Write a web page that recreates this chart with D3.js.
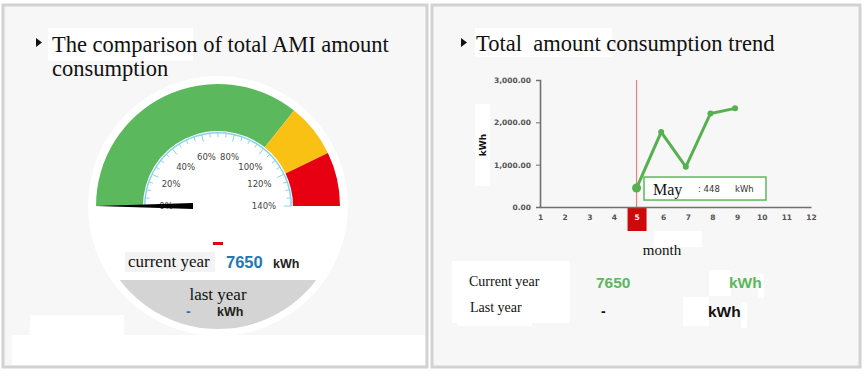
<!DOCTYPE html>
<html>
<head>
<meta charset="utf-8">
<script src="https://cdn.jsdelivr.net/npm/d3@7"></script>
<style>
  html, body { margin: 0; padding: 0; background: #fff; }
  svg { display: block; }
  .serif { font-family: "Liberation Serif", "Times New Roman", serif; }
  .sans { font-family: "DejaVu Sans", Verdana, sans-serif; }
  .arial { font-family: "Liberation Sans", Arial, sans-serif; }
</style>
</head>
<body>
<script>
// dashboard: gauge + monthly trend
const W = 865, H = 376;

// ── Data ──────────────────────────────────────────────
const gaugeStops = [0, 100, 120, 140];          // band edges, %
const gaugeLabels = [0, 20, 40, 60, 80, 100, 120, 140];
const gaugeValue = 0;                            // needle (%)
const currentYear = 7650;
const lastYear = "-";

const months = [1, 2, 3, 4, 5, 6, 7, 8, 9, 10, 11, 12];
const trendMonths = [5, 6, 7, 8, 9];
const trendKwh = [448, 1770, 950, 2210, 2330];
const yTicks = [0, 1000, 2000, 3000];
const selMonth = 5, selMonthName = "May";

// ── Styles ────────────────────────────────────────────
const bandColors = ["#5cb85c", "#f9c113", "#e60012"];
const GREEN = "#55b04f", BLUE = "#1f78b4";

const svg = d3.select("body").append("svg").attr("width", W).attr("height", H);

// panels
svg.append("rect").attr("x", 3).attr("y", 5).attr("width", 424).attr("height", 362)
  .attr("fill", "#f7f7f7").attr("stroke", "#d2d2d2").attr("stroke-width", 3);
svg.append("rect").attr("x", 432).attr("y", 5).attr("width", 428).attr("height", 362)
  .attr("fill", "#f7f7f7").attr("stroke", "#d2d2d2").attr("stroke-width", 3);
// white patches (scan artefacts)
svg.append("rect").attr("x", 12).attr("y", 335).attr("width", 413).attr("height", 30).attr("fill", "#fff");
svg.append("rect").attr("x", 30).attr("y", 315).attr("width", 94).attr("height", 21).attr("fill", "#fff");

function bullet(x, y) {
  svg.append("path").attr("d", `M${x},${y} L${x + 6},${y + 4.5} L${x},${y + 9} Z`).attr("fill", "#111");
}

// ── Left: gauge ───────────────────────────────────────
bullet(36, 38);
svg.append("rect").attr("x", 48).attr("y", 28).attr("width", 145).attr("height", 33).attr("fill", "#fff");
svg.append("text").attr("class", "serif").attr("x", 52).attr("y", 52)
  .attr("font-size", 22.5).attr("fill", "#111").text("The comparison of total AMI amount");
svg.append("text").attr("class", "serif").attr("x", 52).attr("y", 76)
  .attr("font-size", 22.5).attr("fill", "#111").text("consumption");

const cx = 218, cy = 206;
const g = svg.append("g").attr("transform", `translate(${cx},${cy})`);
g.append("circle").attr("r", 130).attr("fill", "#fff");

// last-year segment (grey)
const segY = 74, segR = 123;
const hw = Math.sqrt(segR * segR - segY * segY);
g.append("path")
  .attr("d", `M${-hw},${segY} A${segR},${segR} 0 0 0 ${hw},${segY} Z`)
  .attr("fill", "#d4d4d4");

const ang = d3.scaleLinear().domain([0, 140]).range([-Math.PI / 2, Math.PI / 2]);
const band = d3.arc().innerRadius(75).outerRadius(122);
g.selectAll("path.band")
  .data(d3.pairs(gaugeStops))
  .join("path")
  .attr("class", "band")
  .attr("d", d => band({ startAngle: ang(d[0]), endAngle: ang(d[1]) }))
  .attr("fill", (d, i) => bandColors[i]);

// tick scale
g.append("path")
  .attr("d", d3.arc().innerRadius(72.5).outerRadius(74)({ startAngle: ang(0), endAngle: ang(140) }))
  .attr("fill", "#86d3ee");
const ticks = d3.range(0, 141, 5);
g.selectAll("line.tk")
  .data(ticks)
  .join("line")
  .attr("class", "tk")
  .each(function (d) {
    const a = ang(d) - Math.PI / 2;
    const len = d % 20 === 0 ? 7 : 4;
    d3.select(this)
      .attr("x1", Math.cos(a) * 73).attr("y1", Math.sin(a) * 73)
      .attr("x2", Math.cos(a) * (73 - len)).attr("y2", Math.sin(a) * (73 - len));
  })
  .attr("stroke", "#86d3ee").attr("stroke-width", 1);

g.selectAll("text.gl")
  .data(gaugeLabels)
  .join("text")
  .attr("class", "gl sans")
  .attr("x", d => Math.cos(ang(d) - Math.PI / 2) * (d >= 120 ? 46 : 52))
  .attr("y", d => Math.sin(ang(d) - Math.PI / 2) * 50 + 3)
  .attr("text-anchor", "middle")
  .attr("font-size", 8.5).attr("fill", "#444")
  .text(d => d + "%");

// needle
const needleAng = ang(gaugeValue) * 180 / Math.PI - 90;
g.append("path")
  .attr("transform", `rotate(${needleAng})`)
  .attr("d", "M25,-3 L122,0 L25,3 Z")
  .attr("fill", "#000");

// value texts
svg.append("rect").attr("x", 213).attr("y", 242).attr("width", 10).attr("height", 3).attr("fill", "#e60012");
svg.append("rect").attr("x", 125).attr("y", 252).attr("width", 90).attr("height", 20).attr("fill", "#f3f3f3");
svg.append("text").attr("class", "serif").attr("x", 128).attr("y", 267)
  .attr("font-size", 17).attr("fill", "#111").text("current year");
svg.append("text").attr("class", "arial").attr("x", 226).attr("y", 268)
  .attr("font-size", 16.5).attr("font-weight", "bold").attr("fill", BLUE).text(currentYear);
svg.append("text").attr("class", "arial").attr("x", 273).attr("y", 268)
  .attr("font-size", 12.5).attr("font-weight", "bold").attr("fill", "#222").text("kWh");

svg.append("text").attr("class", "serif").attr("x", cx).attr("y", 300)
  .attr("text-anchor", "middle").attr("font-size", 17).attr("fill", "#111").text("last year");
svg.append("text").attr("class", "arial").attr("x", 186).attr("y", 316)
  .attr("font-size", 14).attr("font-weight", "bold").attr("fill", BLUE).text(lastYear);
svg.append("text").attr("class", "arial").attr("x", 217).attr("y", 316)
  .attr("font-size", 12.5).attr("font-weight", "bold").attr("fill", "#222").text("kWh");

// ── Right: trend ──────────────────────────────────────
bullet(461, 38);
svg.append("rect").attr("x", 475).attr("y", 28).attr("width", 137).attr("height", 29).attr("fill", "#fff");
svg.append("text").attr("class", "serif").attr("x", 476).attr("y", 51)
  .attr("font-size", 22.5).attr("fill", "#111").attr("xml:space", "preserve")
  .text("Total  amount consumption trend");

const x = d3.scaleLinear().domain([1, 12]).range([540, 811]);
const y = d3.scaleLinear().domain([0, 3000]).range([207, 80]);

// y title
svg.append("rect").attr("x", 475).attr("y", 104).attr("width", 15).attr("height", 82).attr("fill", "#fff");
svg.append("text").attr("class", "sans")
  .attr("transform", "translate(486,145) rotate(-90)")
  .attr("text-anchor", "middle").attr("font-size", 9).attr("font-weight", "bold").attr("fill", "#111")
  .text("kWh");

// highlight month
svg.append("rect").attr("x", x(selMonth) - 11).attr("y", y(0)).attr("width", 19).attr("height", 24)
  .attr("fill", "#cc0a0a");
svg.append("line").attr("x1", x(selMonth) - 2).attr("x2", x(selMonth) - 2)
  .attr("y1", y(3000)).attr("y2", y(0))
  .attr("stroke", "#e98080").attr("stroke-width", 1.2);

const yAx = svg.append("g").attr("transform", `translate(${x(1)},0)`)
  .call(d3.axisLeft(y).tickValues(yTicks).tickSize(4).tickPadding(5).tickFormat(d3.format(",.2f")));
const xAx = svg.append("g").attr("transform", `translate(0,${y(0)})`)
  .call(d3.axisBottom(x).tickValues(months).tickSize(0).tickPadding(8).tickFormat(d3.format("d")));
[yAx, xAx].forEach(a => {
  a.select(".domain").attr("stroke", "#707070").attr("stroke-width", 1.6);
  a.selectAll(".tick line").attr("stroke", "#707070");
  a.selectAll("text").attr("font-family", "DejaVu Sans, sans-serif").attr("font-size", 7.5)
    .attr("fill", "#555").attr("font-weight", "bold");
});
xAx.selectAll(".tick text").filter(d => d === selMonth).attr("fill", "#fff")
  .attr("transform", "translate(-2,0)");

// line
const pts = trendMonths.map((m, i) => [m, trendKwh[i]]);
svg.append("path").datum(pts)
  .attr("fill", "none").attr("stroke", GREEN).attr("stroke-width", 3)
  .attr("d", d3.line().x(d => x(d[0]) - 2).y(d => y(d[1])));
svg.selectAll("circle.pt").data(pts).join("circle")
  .attr("class", "pt")
  .attr("cx", d => x(d[0]) - 2).attr("cy", d => y(d[1]))
  .attr("r", d => d[0] === selMonth ? 4.5 : 3)
  .attr("fill", GREEN);

// tooltip
const selVal = trendKwh[trendMonths.indexOf(selMonth)];
const tt = svg.append("g").attr("transform", `translate(644,${y(selVal) - 11})`);
tt.append("rect").attr("width", 122).attr("height", 23)
  .attr("fill", "#fff").attr("stroke", "#5cb85c").attr("stroke-width", 1.5);
tt.append("text").attr("class", "serif").attr("x", 9).attr("y", 18)
  .attr("font-size", 16).attr("fill", "#111").text(selMonthName);
tt.append("text").attr("class", "sans").attr("x", 54).attr("y", 15)
  .attr("font-size", 8.5).attr("fill", "#333").text(": " + selVal);
tt.append("text").attr("class", "sans").attr("x", 91).attr("y", 15)
  .attr("font-size", 8.5).attr("fill", "#333").text("kWh");

// x title
svg.append("rect").attr("x", 654).attr("y", 231).attr("width", 48).attr("height", 16).attr("fill", "#fff");
svg.append("text").attr("class", "serif").attr("x", 662).attr("y", 255)
  .attr("text-anchor", "middle").attr("font-size", 15).attr("fill", "#111").text("month");

// summary table
svg.append("rect").attr("x", 452).attr("y", 261).attr("width", 118).attr("height", 62).attr("fill", "#fff");
svg.append("rect").attr("x", 458).attr("y", 320).attr("width", 74).attr("height", 6).attr("fill", "#fff");
svg.append("text").attr("class", "serif").attr("x", 469).attr("y", 286)
  .attr("font-size", 14).attr("fill", "#111").text("Current year");
svg.append("text").attr("class", "serif").attr("x", 470).attr("y", 312)
  .attr("font-size", 14).attr("fill", "#111").text("Last year");
svg.append("text").attr("class", "arial").attr("x", 596).attr("y", 288)
  .attr("font-size", 15.5).attr("font-weight", "bold").attr("fill", "#5cb85c").text(currentYear);
svg.append("text").attr("class", "arial").attr("x", 601).attr("y", 316)
  .attr("font-size", 14).attr("font-weight", "bold").attr("fill", "#111").text(lastYear);
svg.append("rect").attr("x", 709).attr("y", 270).attr("width", 22).attr("height", 26).attr("fill", "#fff");
svg.append("rect").attr("x", 758).attr("y", 274).attr("width", 6).attr("height", 24).attr("fill", "#fff");
svg.append("text").attr("class", "arial").attr("x", 729).attr("y", 288)
  .attr("font-size", 15.5).attr("font-weight", "bold").attr("fill", "#5cb85c").text("kWh");
svg.append("rect").attr("x", 683).attr("y", 297).attr("width", 26).attr("height", 29).attr("fill", "#fff");
svg.append("rect").attr("x", 741).attr("y", 302).attr("width", 6).attr("height", 26).attr("fill", "#fff");
svg.append("text").attr("class", "arial").attr("x", 708).attr("y", 317)
  .attr("font-size", 15.5).attr("font-weight", "bold").attr("fill", "#111").text("kWh");
</script>
</body>
</html>
